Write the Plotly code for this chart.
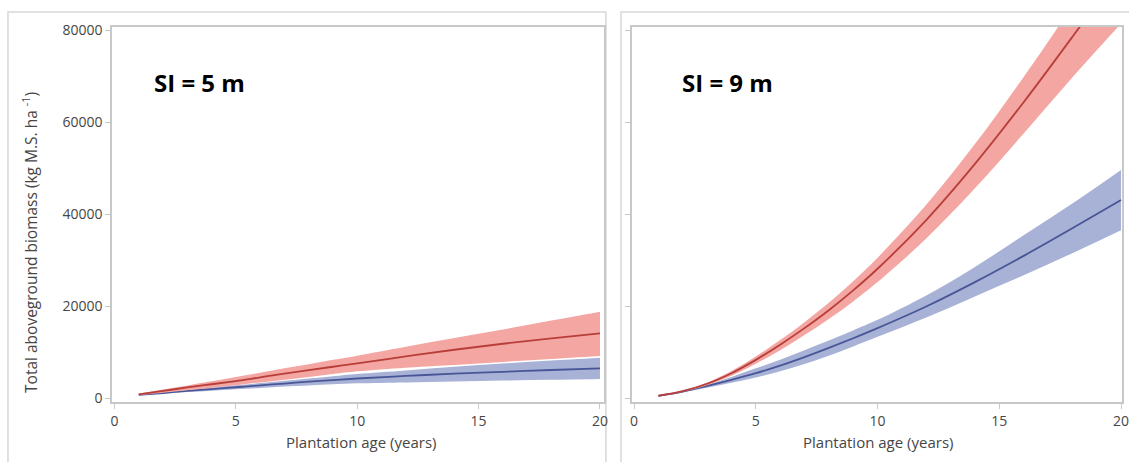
import plotly.graph_objects as go

# ---------------- data ----------------
age = [1, 2, 3, 4, 5, 6, 7, 8, 9, 10, 12, 14, 16, 18, 20]

# SI = 5 m
si5_red_mean  = [900, 1650, 2400, 3100, 3800, 4600, 5400, 6150, 6900, 7650, 9150, 10600, 11900, 13050, 14170]
si5_red_upper = [1100, 1950, 2850, 3750, 4700, 5600, 6550, 7450, 8400, 9300, 11250, 13150, 15000, 16950, 18870]
si5_red_lower = [700, 1250, 1800, 2350, 2900, 3500, 4100, 4700, 5300, 5900, 6700, 7300, 7950, 8600, 9240]
si5_blue_mean  = [800, 1200, 1650, 2050, 2450, 2850, 3250, 3650, 4000, 4350, 4900, 5400, 5800, 6200, 6560]
si5_blue_upper = [900, 1400, 1900, 2400, 2870, 3350, 3850, 4350, 4850, 5330, 6100, 6900, 7600, 8250, 8870]
si5_blue_lower = [700, 1050, 1400, 1700, 2000, 2300, 2600, 2850, 3100, 3300, 3500, 3700, 3900, 4070, 4240]

# SI = 9 m
si9_red_mean  = [600, 1600, 3200, 5500, 8400, 11700, 15300, 19200, 23500, 28200, 38800, 51000, 64400, 78600, 93200]
si9_red_upper = [650, 1750, 3500, 6000, 9150, 12700, 16600, 20800, 25500, 30600, 42100, 55300, 69900, 85300, 101100]
si9_red_lower = [550, 1450, 2900, 4950, 7550, 10500, 13800, 17300, 21100, 25300, 34800, 45700, 57600, 69800, 81500]
si9_blue_mean  = [550, 1500, 2720, 4050, 5500, 7150, 9000, 11000, 13100, 15300, 20000, 25300, 31000, 37000, 43150]
si9_blue_upper = [600, 1650, 3000, 4700, 6560, 8450, 10500, 12600, 14800, 17100, 22400, 28600, 35500, 42400, 49700]
si9_blue_lower = [500, 1350, 2350, 3400, 4550, 5900, 7500, 9300, 11300, 13400, 17600, 22200, 26800, 31600, 36600]

y_ticks = [0, 20000, 40000, 60000, 80000]
x_ticks = [0, 5, 10, 15, 20]

RED_LINE = "rgb(184,62,58)"
RED_FILL = "rgb(243,166,162)"
BLUE_LINE = "rgb(72,86,152)"
BLUE_FILL = "rgb(168,178,214)"

fig = go.Figure()


def add_band(x, lower, upper, mean, fill, line, xa, ya):
    fig.add_trace(go.Scatter(x=x, y=lower, mode="lines", line=dict(width=0, shape="spline", color=fill),
                             xaxis=xa, yaxis=ya, showlegend=False, hoverinfo="skip"))
    fig.add_trace(go.Scatter(x=x, y=upper, mode="lines", line=dict(width=0, shape="spline", color=fill),
                             fill="tonexty", fillcolor=fill,
                             xaxis=xa, yaxis=ya, showlegend=False, hoverinfo="skip"))
    fig.add_trace(go.Scatter(x=x, y=mean, mode="lines", line=dict(width=1.8, shape="spline", color=line),
                             xaxis=xa, yaxis=ya, showlegend=False))


add_band(age, si5_blue_lower, si5_blue_upper, si5_blue_mean, BLUE_FILL, BLUE_LINE, "x", "y")
add_band(age, si5_red_lower, si5_red_upper, si5_red_mean, RED_FILL, RED_LINE, "x", "y")
add_band(age, si9_blue_lower, si9_blue_upper, si9_blue_mean, BLUE_FILL, BLUE_LINE, "x2", "y2")
add_band(age, si9_red_lower, si9_red_upper, si9_red_mean, RED_FILL, RED_LINE, "x2", "y2")

FONT = "Open Sans"
GRID = "rgb(200,200,200)"
TXT = "rgb(70,70,70)"

axis_common = dict(showline=True, mirror=True, linecolor=GRID, linewidth=1.5,
                   ticks="outside", ticklen=5, tickcolor=GRID, tickwidth=1,
                   showgrid=False, zeroline=False, automargin=False,
                   ticklabeloverflow="allow",
                   tickfont=dict(family=FONT, size=14, color=TXT))

fig.update_layout(
    width=1129, height=462,
    margin=dict(l=112, r=7, t=27, b=60),
    paper_bgcolor="white", plot_bgcolor="white",
    xaxis=dict(domain=[0, 0.4871], range=[-0.103, 20.165], tickvals=x_ticks, **axis_common),
    yaxis=dict(range=[-761, 80761], tickvals=y_ticks, tickformat="d", **axis_common),
    xaxis2=dict(domain=[0.5149, 1], range=[-0.082, 20.04], tickvals=x_ticks, anchor="y2", **axis_common),
    yaxis2=dict(range=[-761, 80761], tickvals=y_ticks, anchor="x2", showticklabels=False, **axis_common),
    annotations=[
        dict(text="<b>SI = 5 m</b>", x=1.55, y=68600, xref="x", yref="y", xanchor="left", yanchor="middle",
             showarrow=False, font=dict(family=FONT, size=24, color="black")),
        dict(text="<b>SI = 9 m</b>", x=1.9, y=68600, xref="x2", yref="y2", xanchor="left", yanchor="middle",
             showarrow=False, font=dict(family=FONT, size=24, color="black")),
        dict(text="Total aboveground biomass (kg M.S. ha <sup>-1</sup>)", textangle=-90,
             x=-0.0812, y=0.4267, xref="paper", yref="paper", xanchor="center", yanchor="middle",
             showarrow=False, font=dict(family=FONT, size=15.5, color=TXT)),
        dict(text="Plantation age (years)", x=(361 - 112) / 1010, y=(402 - 442) / 375,
             xref="paper", yref="paper", xanchor="center", yanchor="middle",
             showarrow=False, font=dict(family=FONT, size=15, color=TXT)),
        dict(text="Plantation age (years)", x=(878 - 112) / 1010, y=(402 - 442) / 375,
             xref="paper", yref="paper", xanchor="center", yanchor="middle",
             showarrow=False, font=dict(family=FONT, size=15, color=TXT)),
    ],
    shapes=[
        dict(type="rect", xref="paper", yref="paper", x0=-0.103, x1=0.489, y0=-0.2, y1=1.04,
             line=dict(color="rgb(215,215,215)", width=1.5), layer="below"),
        dict(type="rect", xref="paper", yref="paper", x0=0.504, x1=1.02, y0=-0.2, y1=1.04,
             line=dict(color="rgb(215,215,215)", width=1.5), layer="below"),
    ],
)

fig.write_html("out.html", config={"displayModeBar": False},
               post_script="document.body.style.margin='0';document.body.style.overflow='hidden';")
